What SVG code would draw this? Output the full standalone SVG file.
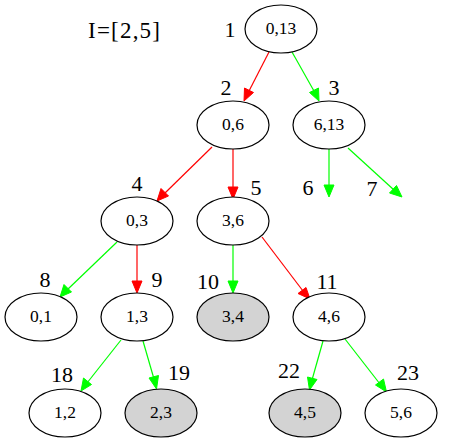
<svg xmlns="http://www.w3.org/2000/svg" width="467" height="443" viewBox="0 0 467 443">
<style>
.n ellipse{fill:#fff;stroke:#000;stroke-width:1.2}
.n.g ellipse{fill:#d3d3d3}
.n text{font-family:"Liberation Serif",serif;font-size:17.5px;text-anchor:middle}
.lbl{font-family:"Liberation Serif",serif;font-size:22px;text-anchor:middle}
.r{stroke:#f00;fill:none;stroke-width:1.2}
.gr{stroke:#0f0;fill:none;stroke-width:1.2}
.ra{fill:#f00;stroke:#f00}
.ga{fill:#0f0;stroke:#0f0}
</style>
<rect width="467" height="443" fill="#fff"/>
<text x="88" y="38" font-family="Liberation Serif,serif" font-size="23" textLength="72" lengthAdjust="spacing">I=[2,5]</text>
<g id="edges">
<path class="r" d="M269,52 L249,91"/><polygon class="ra" points="244,101 244.5,88 253.5,92.5"/>
<path class="gr" d="M292,52 L314,91"/><polygon class="ga" points="319,101 309.5,92.5 318.5,88"/>
<path class="r" d="M212,147 L165,193"/><polygon class="ra" points="157,201 161,188.5 168.5,196"/>
<path class="r" d="M233,149 L233,189"/><polygon class="ra" points="233,199 228,187 238,187"/>
<path class="gr" d="M329,149 L329,187"/><polygon class="ga" points="329,197 324,185 334,185"/>
<path class="gr" d="M348,148 L394,190"/><polygon class="ga" points="402,197 389.5,193 396.5,185.5"/>
<path class="gr" d="M117,242 L67,290"/><polygon class="ga" points="60,297 64,284.5 71.5,292"/>
<path class="r" d="M137,245 L137,283"/><polygon class="ra" points="137,293 132,281 142,281"/>
<path class="gr" d="M233,245 L233,283"/><polygon class="ga" points="233,293 228,281 238,281"/>
<path class="r" d="M262,237 L303,291"/><polygon class="ra" points="310,299 298,293.5 306,287.5"/>
<path class="gr" d="M121,340 L87,383"/><polygon class="ga" points="81,391 83.5,378 91.5,384.5"/>
<path class="gr" d="M143,341 L154,379"/><polygon class="ga" points="156.5,389 149,378 158.5,375.5"/>
<path class="gr" d="M323,341 L312,380"/><polygon class="ga" points="309.5,390 307.5,377 317,379.5"/>
<path class="gr" d="M345,339 L380,384"/><polygon class="ga" points="386.5,392 375.5,385 383.5,379"/>
</g>
<g id="n1" class="n"><ellipse cx="281" cy="29" rx="36" ry="24"/><text x="281" y="34">0,13</text></g>
<g id="n2" class="n"><ellipse cx="233" cy="125" rx="36" ry="24"/><text x="233" y="130">0,6</text></g>
<g id="n3" class="n"><ellipse cx="329" cy="125" rx="36" ry="24"/><text x="329" y="130">6,13</text></g>
<g id="n4" class="n"><ellipse cx="137" cy="221" rx="36" ry="24"/><text x="137" y="226">0,3</text></g>
<g id="n5" class="n"><ellipse cx="233" cy="221" rx="36" ry="24"/><text x="233" y="226">3,6</text></g>
<g id="n8" class="n"><ellipse cx="41" cy="317" rx="36" ry="24"/><text x="41" y="322">0,1</text></g>
<g id="n9" class="n"><ellipse cx="137" cy="317" rx="36" ry="24"/><text x="137" y="322">1,3</text></g>
<g id="n10" class="n g"><ellipse cx="233" cy="317" rx="36" ry="24"/><text x="233" y="322">3,4</text></g>
<g id="n11" class="n"><ellipse cx="329" cy="317" rx="36" ry="24"/><text x="329" y="322">4,6</text></g>
<g id="n18" class="n"><ellipse cx="65" cy="413" rx="36" ry="24"/><text x="65" y="418">1,2</text></g>
<g id="n19" class="n g"><ellipse cx="161" cy="413" rx="36" ry="24"/><text x="161" y="418">2,3</text></g>
<g id="n22" class="n g"><ellipse cx="305" cy="413" rx="36" ry="24"/><text x="305" y="418">4,5</text></g>
<g id="n23" class="n"><ellipse cx="401" cy="413" rx="36" ry="24"/><text x="401" y="418">5,6</text></g>
<g id="labels">
<text class="lbl" x="230" y="37">1</text>
<text class="lbl" x="226" y="95">2</text>
<text class="lbl" x="334" y="95">3</text>
<text class="lbl" x="137" y="191">4</text>
<text class="lbl" x="256" y="195">5</text>
<text class="lbl" x="308" y="195">6</text>
<text class="lbl" x="372" y="196">7</text>
<text class="lbl" x="45" y="287">8</text>
<text class="lbl" x="157" y="287">9</text>
<text class="lbl" x="208" y="289">10</text>
<text class="lbl" x="327" y="289">11</text>
<text class="lbl" x="62" y="382">18</text>
<text class="lbl" x="179" y="380">19</text>
<text class="lbl" x="289" y="378">22</text>
<text class="lbl" x="408" y="380">23</text>
</g>
</svg>
